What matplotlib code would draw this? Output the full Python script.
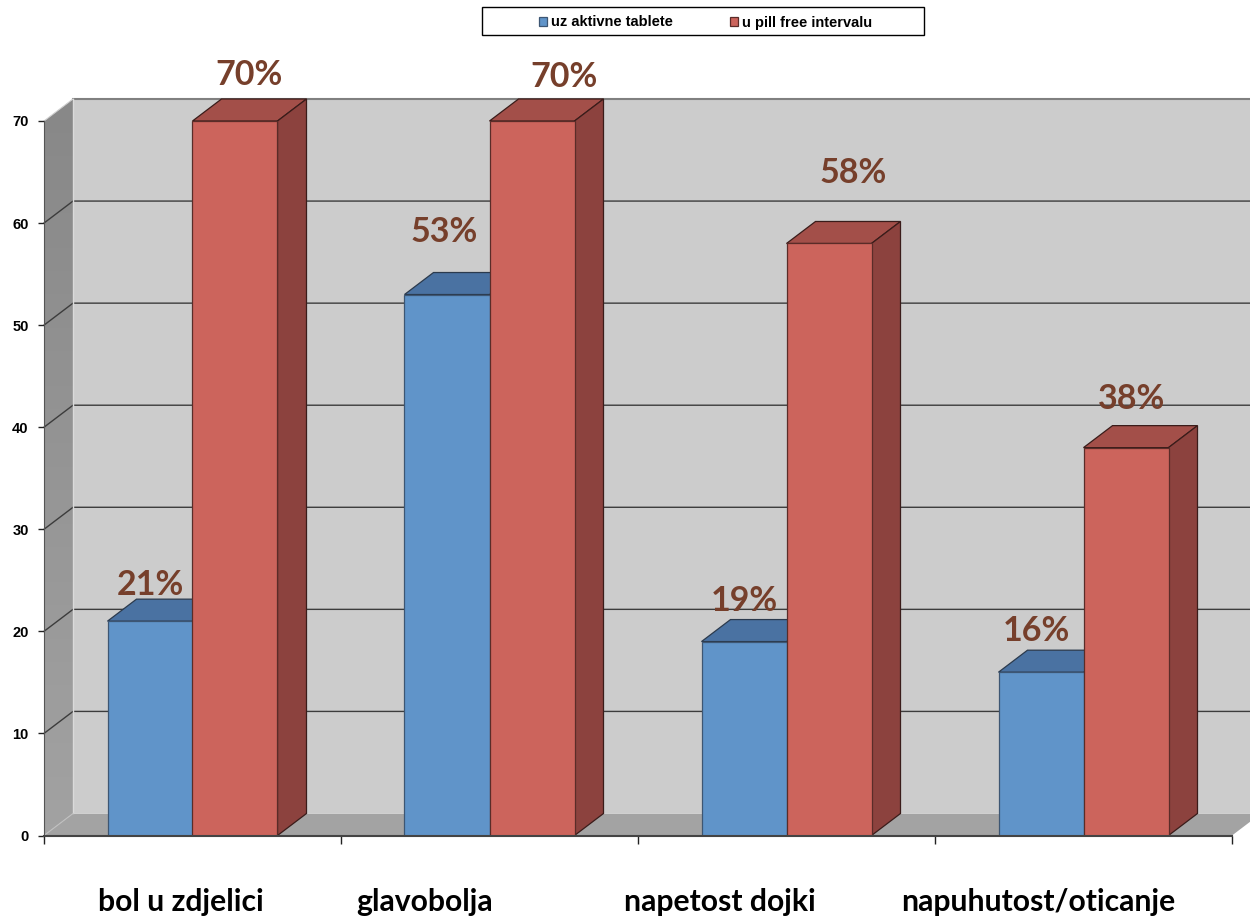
import numpy as np
import matplotlib
matplotlib.use('Agg')
import matplotlib.pyplot as plt
from matplotlib.colors import LinearSegmentedColormap
from matplotlib.patches import Polygon, Rectangle

# podaci
kategorije = ['bol u zdjelici', 'glavobolja', 'napetost dojki', 'napuhutost/oticanje']
aktivne = [21, 53, 19, 16]
pill_free = [70, 70, 58, 38]
naziv_aktivne = 'uz aktivne tablete'
naziv_pill_free = 'u pill free intervalu'
y_ticks = [0, 10, 20, 30, 40, 50, 60, 70]

# pomak natpisa od vrha stupca, u pikselima
pomak_aktivne = [(0, 36), (-3, 63), (0, 41), (-5, 41)]
pomak_pill = [(14, 46), (32, 44), (24, 70), (6, 49)]
# pomak naziva kategorije od sredine grupe
pomak_kat = [-12, -65, -67, -45]

PLAVA, PLAVA_TOP = '#6094c9', '#4a72a2'
CRVENA, CRVENA_TOP, CRVENA_BOK = '#cc645c', '#a34f49', '#8c423e'
SMEDA = '#763f2b'

fig = plt.figure(figsize=(12.5, 9.18), dpi=100)
ax = fig.add_axes([44 / 1250, (918 - 835.5) / 918, 1188 / 1250, 714.5 / 918])

# dubina 3D efekta u jedinicama osi
dx = 29 / 297
dy = 22 / 10.207
sirina = 85 / 297
vrh = y_ticks[-1]


def poligon(tocke, boja, z, rub='none', lw=0.0):
    p = Polygon(tocke, closed=True, facecolor=boja, edgecolor=rub, linewidth=lw,
                zorder=z, clip_on=False)
    ax.add_patch(p)
    return p


# zidovi i pod
poligon([(dx, dy), (4 + dx, dy), (4 + dx, vrh + dy), (dx, vrh + dy)], '#cccccc', 1)
lijevi = poligon([(0, 0), (dx, dy), (dx, vrh + dy), (0, vrh)], 'none', 1)
karta = LinearSegmentedColormap.from_list('zid', ['#a2a2a2', '#888888'])
gradijent = ax.imshow(np.linspace(0, 1, 64).reshape(-1, 1), cmap=karta,
                      extent=(0, dx, 0, vrh + dy), origin='lower', aspect='auto', zorder=1.1)
gradijent.set_clip_box(fig.bbox)
gradijent.set_clip_path(lijevi)
ax.set_xlim(0, 4)
ax.set_ylim(0, 70)
poligon([(0, 0), (4, 0), (4 + dx, dy), (dx, dy)], '#a3a3a3', 1.2)

# mreza
for t in y_ticks[1:-1]:
    ax.plot([0, dx, 4 + dx], [t, t + dy, t + dy], color='#3c3c3c', lw=1.0, zorder=1.5, clip_on=False)
ax.plot([dx, 4 + dx], [vrh + dy, vrh + dy], color='#808080', lw=1.5, zorder=1.5, clip_on=False)
ax.plot([0, dx], [vrh, vrh + dy], color='#d0d0d0', lw=0.8, zorder=1.5, clip_on=False)
ax.plot([dx, dx], [dy, vrh + dy], color='#dadada', lw=1.0, zorder=1.5, clip_on=False)
ax.plot([0, dx], [0, dy], color='#c0c0c0', lw=0.8, zorder=1.5, clip_on=False)

# stupci
x = np.arange(len(kategorije)) + 0.5
stupci_a = ax.bar(x - sirina / 2, aktivne, sirina, color=PLAVA, edgecolor='#3d5673', linewidth=0.9,
                  zorder=4, label=naziv_aktivne)
stupci_p = ax.bar(x + sirina / 2, pill_free, sirina, color=CRVENA, edgecolor='#5a2c28', linewidth=0.9,
                  zorder=5, label=naziv_pill_free)

for xi, a, p in zip(x, aktivne, pill_free):
    l = xi - sirina
    poligon([(l, a), (xi, a), (xi + dx, a + dy), (l + dx, a + dy)], PLAVA_TOP, 3, '#2b3a4d', 0.9)
    d = xi + sirina
    poligon([(xi, p), (d, p), (d + dx, p + dy), (xi + dx, p + dy)], CRVENA_TOP, 4.5, '#3a1c1a', 0.9)
    poligon([(d, 0), (d + dx, dy), (d + dx, p + dy), (d, p)], CRVENA_BOK, 4.5, '#3a1c1a', 0.9)

# natpisi postotaka
for xi, a, p, pa, pp in zip(x, aktivne, pill_free, pomak_aktivne, pomak_pill):
    for xt, v, pom in [(xi - sirina / 2, a, pa), (xi + sirina / 2, p, pp)]:
        ax.annotate(f'{v}%', xy=(xt, v), xytext=pom, textcoords='offset pixels', ha='center', va='center',
                    family='Lato', weight='bold', fontsize=24.5, color=SMEDA, zorder=8, annotation_clip=False)

# nazivi kategorija
for xi, k, pom in zip(x, kategorije, pomak_kat):
    ax.annotate(k, xy=(xi, 0), xytext=(pom, -66.5), textcoords='offset pixels', ha='center', va='center',
                family='Lato', weight='bold', fontsize=21.7, color='black', annotation_clip=False)

# osi
ax.set_xticks(range(5))
ax.set_xticklabels([])
ax.set_yticks(y_ticks)
ax.set_yticklabels([str(t) for t in y_ticks], family='Liberation Sans', weight='bold', fontsize=10.5)
ax.tick_params(axis='y', length=4, width=1, pad=7, color='#222222')
ax.tick_params(axis='x', length=6, width=1, color='#222222')
for s in ['top', 'right']:
    ax.spines[s].set_visible(False)
ax.spines['left'].set_color('#555555')
ax.spines['bottom'].set_color('#444444')
ax.spines['bottom'].set_linewidth(1.5)
ax.spines['bottom'].set_zorder(6)
ax.spines['left'].set_zorder(2)
ax.patch.set_visible(False)

# legenda
okvir = Rectangle((482 / 1250, 1 - 34.5 / 918), 442 / 1250, 27.5 / 918, transform=fig.transFigure,
                  facecolor='white', edgecolor='black', linewidth=1.0)
fig.add_artist(okvir)
leg = fig.legend(handles=[stupci_a, stupci_p], loc='center', bbox_to_anchor=(705.5 / 1250, 1 - 22.5 / 918), ncol=2,
                 frameon=False, prop={'family': 'Liberation Sans', 'weight': 'bold', 'size': 10.5},
                 handlelength=0.55, handleheight=0.55, handletextpad=0.25, columnspacing=3.95, borderpad=0)

fig.savefig('out.png', dpi=100)
